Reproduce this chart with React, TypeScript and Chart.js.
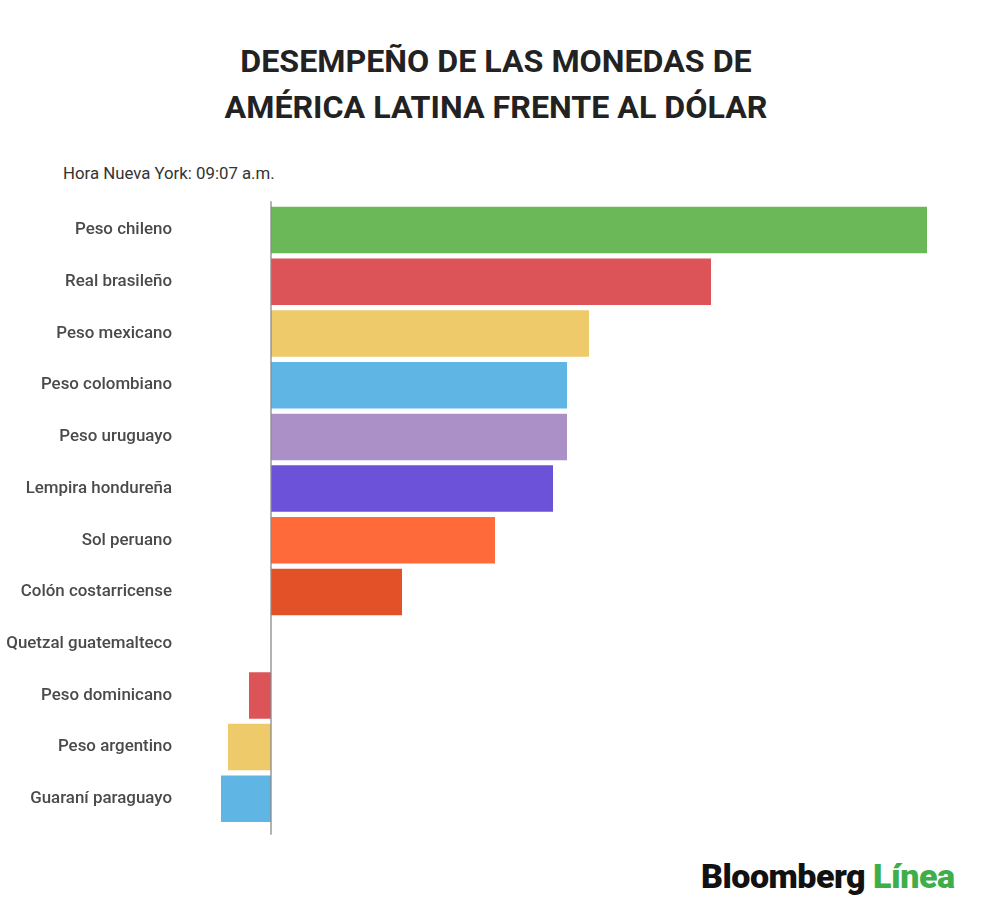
import React, { useEffect, useRef } from "react";
import { Chart, registerables } from "chart.js";

Chart.register(...registerables);

const categories = [
  "Peso chileno",
  "Real brasileño",
  "Peso mexicano",
  "Peso colombiano",
  "Peso uruguayo",
  "Lempira hondureña",
  "Sol peruano",
  "Colón costarricense",
  "Quetzal guatemalteco",
  "Peso dominicano",
  "Peso argentino",
  "Guaraní paraguayo",
];

const values = [1.64, 1.1, 0.795, 0.74, 0.74, 0.705, 0.56, 0.3275, 0, -0.055, -0.1075, -0.125];

const barColors = [
  "#6ab857",
  "#dc5457",
  "#efca6b",
  "#5fb6e4",
  "#ab90c8",
  "#6c52d9",
  "#fe6a3a",
  "#e25127",
  "#9e9e9e",
  "#dc5457",
  "#efca6b",
  "#5fb6e4",
];

const title = ["DESEMPEÑO DE LAS MONEDAS DE", "AMÉRICA LATINA FRENTE AL DÓLAR"];
const subtitle = "Hora Nueva York: 09:07 a.m.";

const zeroLine = {
  id: "zeroLine",
  afterDatasetsDraw(chart: any) {
    const x = chart.scales.x.getPixelForValue(0);
    const { top, bottom } = chart.chartArea;
    const ctx = chart.ctx;
    ctx.save();
    ctx.strokeStyle = "#8a8a8a";
    ctx.lineWidth = 1.3;
    ctx.beginPath();
    ctx.moveTo(x, top - 3);
    ctx.lineTo(x, bottom + 10);
    ctx.stroke();
    ctx.restore();
  },
};

export default function App() {
  const ref = useRef<HTMLCanvasElement>(null);
  useEffect(() => {
    if (!ref.current) return;
    const chart = new Chart(ref.current, {
      type: "bar",
      data: {
        labels: categories,
        datasets: [
          {
            data: values,
            backgroundColor: barColors,
            barPercentage: 0.9,
            categoryPercentage: 1,
          },
        ],
      },
      options: {
        indexAxis: "y",
        animation: false,
        responsive: false,
        maintainAspectRatio: false,
        layout: { padding: { top: 7.25, bottom: 12.35, left: 0, right: 73 } },
        plugins: { legend: { display: false }, tooltip: { enabled: false }, title: { display: false } },
        scales: {
          x: {
            display: false,
            min: -0.125,
            max: 1.64,
            grid: { display: false },
          },
          y: {
            afterFit: (s: any) => {
              s.width = 221;
              s.paddingTop = 0;
              s.paddingBottom = 0;
            },
            border: { display: false },
            grid: { display: false, drawTicks: false },
            ticks: {
              padding: 49,
              color: "#4a4a4a",
              font: { family: "Roboto", size: 16.9, weight: "500" },
            },
          },
        },
      },
      plugins: [zeroLine],
    });
    return () => chart.destroy();
  }, []);

  return (
    <div
      style={{
        position: "fixed",
        left: 0,
        top: 0,
        width: 1000,
        height: 917,
        background: "#ffffff",
        fontFamily: "Roboto, sans-serif",
      }}
    >
      <div
        style={{
          position: "absolute",
          top: 38,
          left: 0,
          width: 992,
          textAlign: "center",
          fontWeight: 700,
          fontSize: 32.2,
          lineHeight: "46px",
          color: "#222222",
        }}
      >
        {title.map((t) => (
          <div key={t}>{t}</div>
        ))}
      </div>
      <div
        style={{
          position: "absolute",
          top: 163,
          left: 63,
          fontSize: 16.8,
          color: "#333333",
        }}
      >
        {subtitle}
      </div>
      <canvas
        ref={ref}
        width={1000}
        height={640}
        style={{ position: "absolute", left: 0, top: 197, width: 1000, height: 640 }}
      />
      <div
        style={{
          position: "absolute",
          top: 856,
          left: 701,
          fontSize: 34,
          fontWeight: 900,
          letterSpacing: -0.5,
          fontFamily: "Roboto, 'Liberation Sans', sans-serif",
          color: "#111111",
          lineHeight: "40px",
          whiteSpace: "nowrap",
        }}
      >
        Bloomberg <span style={{ color: "#3dae48" }}>Línea</span>
      </div>
    </div>
  );
}
